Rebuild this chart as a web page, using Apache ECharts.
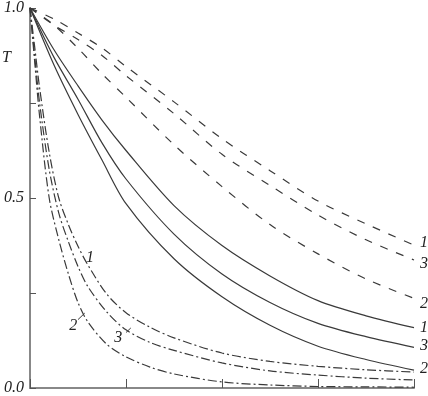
<!DOCTYPE html>
<html>
<head>
<meta charset="utf-8">
<script src="https://cdn.jsdelivr.net/npm/echarts@6/dist/echarts.min.js"></script>
<style>
html, body { margin: 0; padding: 0; background: #fff; }
#main { width: 428px; height: 396px; }
</style>
</head>
<body>
<div id="main"></div>
<script>
// x positions for the dashed and solid curves
var xs = [0, 0.25, 0.5, 0.75, 1, 1.5, 2, 2.5, 3, 3.5, 4];
var dashed1 = [1, 0.971, 0.934, 0.895, 0.846, 0.753, 0.656, 0.572, 0.492, 0.432, 0.376];
var dashed3 = [1, 0.955, 0.917, 0.875, 0.822, 0.722, 0.615, 0.533, 0.455, 0.39, 0.337];
var dashed2 = [1, 0.955, 0.894, 0.827, 0.765, 0.64, 0.53, 0.43, 0.353, 0.287, 0.236];
var solid1 = [1, 0.89, 0.795, 0.705, 0.625, 0.48, 0.375, 0.295, 0.23, 0.19, 0.159];
var solid3 = [1, 0.87, 0.76, 0.645, 0.55, 0.405, 0.3, 0.225, 0.17, 0.135, 0.107];
var solid2 = [1, 0.85, 0.72, 0.6, 0.485, 0.34, 0.24, 0.165, 0.11, 0.075, 0.047];

// dash-dot curves drop fast, so they get finer x steps
var xs2 = [0, 0.05, 0.1, 0.2, 0.3, 0.4, 0.5, 0.6, 0.8, 1, 1.25, 1.5, 2, 2.5, 3, 3.5, 4];
var dashdot1 = [1, 0.895, 0.79, 0.62, 0.5, 0.43, 0.373, 0.325, 0.247, 0.198, 0.16, 0.132, 0.092, 0.07, 0.057, 0.048, 0.042];
var dashdot3 = [1, 0.87, 0.75, 0.575, 0.46, 0.385, 0.32, 0.268, 0.2, 0.153, 0.12, 0.099, 0.066, 0.045, 0.034, 0.026, 0.021];
var dashdot2 = [1, 0.855, 0.715, 0.5, 0.39, 0.3, 0.225, 0.175, 0.115, 0.082, 0.055, 0.037, 0.016, 0.008, 0.004, 0.003, 0.002];

var yTicks = [0, 0.5, 1];

// curve number labels: text, anchor point in data units, pixel nudge
var curveLabels = [
    ['1', [4, 0.376], 6, -2],
    ['3', [4, 0.337], 6, 4],
    ['2', [4, 0.236], 6, 5],
    ['1', [4, 0.159], 6, 0],
    ['3', [4, 0.107], 6, -2],
    ['2', [4, 0.047], 6, -1],
    ['1', [0.625, 0.342], 0, 0],
    ['3', [0.92, 0.133], 0, 0],
    ['2', [0.45, 0.165], 0, 0]
];

function pairs(x, y) {
    var out = [];
    for (var i = 0; i < x.length; i++) out.push([x[i], y[i]]);
    return out;
}

var serifItalic = 'italic 16px "Liberation Serif"';

function curve(name, x, y, type) {
    return {
        name: name,
        type: 'line',
        data: pairs(x, y),
        symbol: 'none',
        smooth: 0.3,
        lineStyle: { color: '#3a3a3a', width: 1.2, type: type }
    };
}

function leader(from, to) {
    return {
        symbol: 'none',
        silent: true,
        label: { show: false },
        lineStyle: { color: '#3a3a3a', width: 1, type: 'solid' },
        data: [[{ coord: from }, { coord: to }]]
    };
}

var chart = echarts.init(document.getElementById('main'));

var option = {
    animation: false,
    grid: { left: 30, right: 14, top: 8, bottom: 5 },
    xAxis: {
        type: 'value',
        min: 0,
        max: 4,
        interval: 1,
        axisLine: { show: true, lineStyle: { color: '#888', width: 2 } },
        axisTick: { show: true, inside: true, length: 9, lineStyle: { color: '#555', width: 1 } },
        axisLabel: { show: false },
        splitLine: { show: false }
    },
    yAxis: {
        type: 'value',
        min: 0,
        max: 1,
        interval: 0.25,
        axisLine: { show: true, lineStyle: { color: '#888', width: 2 } },
        axisTick: { show: true, inside: true, length: 6, lineStyle: { color: '#555', width: 1 } },
        axisLabel: {
            margin: 6,
            fontFamily: 'Liberation Serif',
            fontStyle: 'italic',
            fontSize: 16,
            color: '#222',
            formatter: function (v) {
                return yTicks.indexOf(v) >= 0 ? v.toFixed(1) : '';
            }
        },
        splitLine: { show: false }
    },
    series: [
        curve('dashed 1', xs, dashed1, [8, 9]),
        curve('dashed 3', xs, dashed3, [8, 9]),
        curve('dashed 2', xs, dashed2, [8, 9]),
        curve('solid 1', xs, solid1, 'solid'),
        curve('solid 3', xs, solid3, 'solid'),
        curve('solid 2', xs, solid2, 'solid'),
        curve('dashdot 1', xs2, dashdot1, [9, 3, 2, 3]),
        Object.assign(curve('dashdot 3', xs2, dashdot3, [9, 3, 2, 3]), {
            markLine: leader([1.0, 0.146], [1.05, 0.158])
        }),
        Object.assign(curve('dashdot 2', xs2, dashdot2, [9, 3, 2, 3]), {
            markLine: leader([0.5, 0.18], [0.57, 0.197])
        })
    ]
};

chart.setOption(option);

// place the curve numbers through the chart's own scales
var texts = [{
    type: 'text',
    left: 2,
    top: 50,
    style: { text: 'T', font: serifItalic, fill: '#222' }
}];
curveLabels.forEach(function (c) {
    var p = chart.convertToPixel({ gridIndex: 0 }, c[1]);
    texts.push({
        type: 'text',
        x: p[0] + c[2],
        y: p[1] + c[3],
        style: {
            text: c[0],
            font: serifItalic,
            fill: '#222',
            align: c[2] ? 'left' : 'center',
            verticalAlign: 'middle'
        }
    });
});
chart.setOption({ graphic: texts });
</script>
</body>
</html>
